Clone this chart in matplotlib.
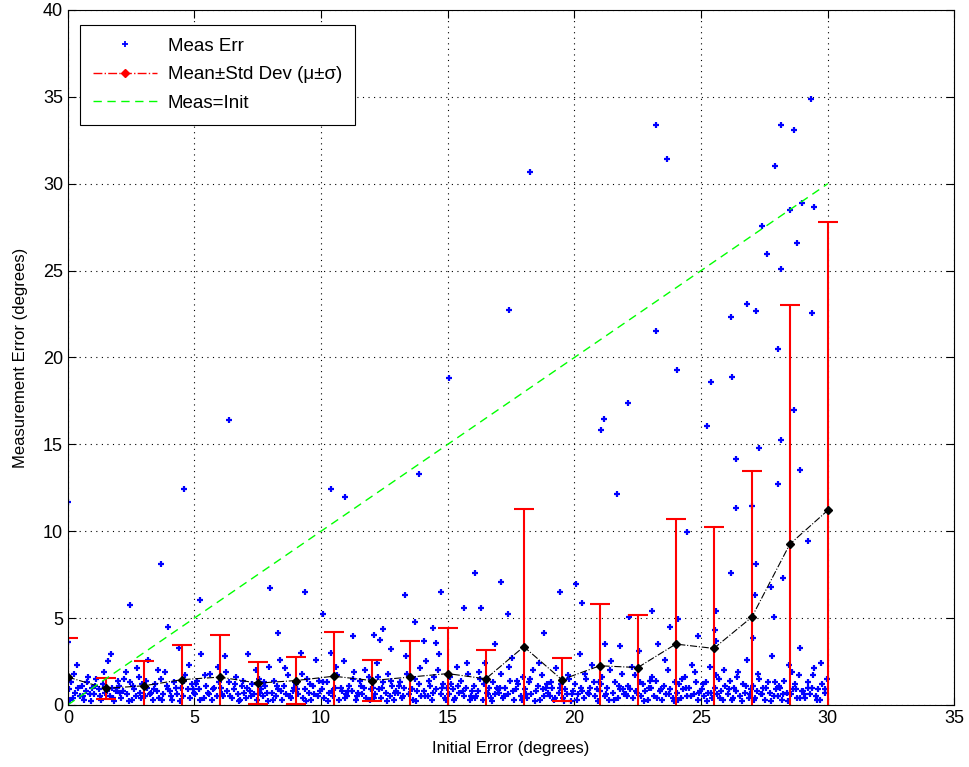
import numpy as np
from matplotlib import pyplot as plt
from matplotlib.lines import Line2D

plt.rcParams['font.family'] = ['Liberation Sans', 'DejaVu Sans']

# bin centres, mean and std of measurement error
bin_x = [0, 1.5, 3, 4.5, 6, 7.5, 9, 10.5, 12, 13.5, 15, 16.5, 18, 19.5, 21, 22.5, 24, 25.5, 27, 28.5, 30]
bin_mean = [1.6, 0.95, 1.1, 1.45, 1.6, 1.25, 1.4, 1.65, 1.4, 1.6, 1.8, 1.5, 3.35, 1.45, 2.25, 2.15,
            3.5, 3.25, 5.05, 9.25, 11.2]
bin_top = [3.85, 1.55, 2.55, 3.45, 4.0, 2.45, 2.75, 4.2, 2.6, 3.7, 4.4, 3.15, 11.25, 2.7, 5.8, 5.15,
           10.7, 10.25, 13.45, 23.0, 27.8]

# dense low cloud of measurement errors
low_x = [
    0.05, 0.12, 0.21, 0.30, 0.38, 0.47, 0.55, 0.63, 0.71, 0.80, 0.88, 0.95,
    1.04, 1.11, 1.22, 1.29, 1.37, 1.46, 1.58, 1.66, 1.74, 1.83, 1.90, 1.97,
    2.02, 2.10, 2.19, 2.28, 2.35, 2.44, 2.53, 2.61, 2.70, 2.79, 2.86, 2.94,
    3.03, 3.12, 3.18, 3.27, 3.36, 3.45, 3.52, 3.60, 3.69, 3.77, 3.85, 3.96,
    4.05, 4.13, 4.20, 4.31, 4.39, 4.47, 4.56, 4.64, 4.73, 4.81, 4.89, 4.97,
    5.02, 5.11, 5.19, 5.27, 5.36, 5.44, 5.53, 5.62, 5.70, 5.78, 5.87, 5.95,
    6.06, 6.14, 6.21, 6.30, 6.38, 6.47, 6.55, 6.63, 6.72, 6.80, 6.88, 6.96,
    7.03, 7.10, 7.19, 7.28, 7.36, 7.45, 7.53, 7.62, 7.70, 7.79, 7.87, 7.95,
    8.04, 8.12, 8.20, 8.29, 8.37, 8.46, 8.54, 8.63, 8.71, 8.80, 8.88, 8.97,
    9.02, 9.10, 9.19, 9.27, 9.36, 9.44, 9.52, 9.61, 9.69, 9.78, 9.86, 9.94,
    10.05, 10.13, 10.22, 10.30, 10.39, 10.47, 10.56, 10.64, 10.72, 10.81, 10.89, 10.97,
    11.03, 11.11, 11.20, 11.28, 11.37, 11.45, 11.54, 11.62, 11.71, 11.79, 11.88, 11.96,
    12.04, 12.13, 12.21, 12.29, 12.38, 12.46, 12.55, 12.63, 12.72, 12.80, 12.89, 12.97,
    13.02, 13.10, 13.19, 13.28, 13.36, 13.45, 13.53, 13.61, 13.70, 13.78, 13.87, 13.95,
    14.05, 14.13, 14.21, 14.30, 14.38, 14.47, 14.55, 14.64, 14.72, 14.80, 14.89, 14.97,
    15.03, 15.12, 15.20, 15.29, 15.37, 15.45, 15.54, 15.62, 15.71, 15.79, 15.87, 15.96,
    16.04, 16.12, 16.21, 16.29, 16.38, 16.46, 16.54, 16.63, 16.71, 16.80, 16.88, 16.97,
    17.02, 17.11, 17.19, 17.27, 17.36, 17.44, 17.53, 17.61, 17.70, 17.78, 17.87, 17.95,
    18.05, 18.13, 18.22, 18.30, 18.38, 18.47, 18.55, 18.64, 18.72, 18.81, 18.89, 18.97,
    19.03, 19.11, 19.20, 19.28, 19.37, 19.45, 19.53, 19.62, 19.70, 19.79, 19.87, 19.96,
    20.04, 20.12, 20.21, 20.29, 20.38, 20.46, 20.55, 20.63, 20.71, 20.80, 20.88, 20.97,
    21.02, 21.10, 21.19, 21.27, 21.36, 21.44, 21.53, 21.61, 21.70, 21.78, 21.87, 21.95,
    22.05, 22.13, 22.21, 22.30, 22.38, 22.47, 22.55, 22.64, 22.72, 22.80, 22.89, 22.97,
    23.03, 23.12, 23.20, 23.28, 23.37, 23.45, 23.54, 23.62, 23.70, 23.79, 23.87, 23.96,
    24.04, 24.12, 24.21, 24.29, 24.38, 24.46, 24.54, 24.63, 24.71, 24.80, 24.88, 24.97,
    25.02, 25.11, 25.19, 25.28, 25.36, 25.44, 25.53, 25.61, 25.70, 25.78, 25.87, 25.95,
    26.05, 26.13, 26.22, 26.30, 26.38, 26.47, 26.55, 26.64, 26.72, 26.81, 26.89, 26.97,
    27.03, 27.11, 27.20, 27.28, 27.37, 27.45, 27.53, 27.62, 27.70, 27.79, 27.87, 27.95,
    28.04, 28.12, 28.21, 28.29, 28.38, 28.46, 28.54, 28.63, 28.71, 28.80, 28.88, 28.97,
    29.03, 29.11, 29.20, 29.28, 29.37, 29.45, 29.53, 29.62, 29.70, 29.79, 29.87, 29.96,
]
low_y = [
    0.9, 1.3, 0.4, 0.7, 2.3, 0.5, 1.1, 0.3, 0.8, 1.6, 0.6, 1.0,
    0.6, 1.5, 0.9, 0.3, 1.2, 0.7, 2.5, 0.5, 1.0, 0.2, 0.8, 1.4,
    1.1, 0.4, 0.8, 1.9, 0.6, 1.3, 0.3, 0.9, 0.5, 1.6, 0.7, 1.2,
    0.5, 1.0, 2.6, 0.7, 0.3, 1.2, 0.8, 0.4, 1.5, 0.6, 1.9, 0.9,
    0.8, 0.3, 1.3, 0.6, 3.3, 1.0, 0.5, 1.7, 0.9, 0.4, 1.2, 0.7,
    0.6, 1.4, 0.9, 2.9, 0.4, 1.1, 0.7, 1.8, 0.3, 1.0, 0.5, 1.3,
    1.0, 0.5, 2.8, 0.8, 1.3, 0.4, 0.9, 1.6, 0.6, 0.3, 1.1, 0.7,
    0.4, 2.9, 0.8, 1.2, 0.6, 0.3, 1.5, 0.9, 0.5, 1.1, 0.7, 2.2,
    0.7, 1.4, 0.5, 0.9, 2.6, 0.3, 1.1, 0.6, 1.7, 0.4, 0.8, 1.3,
    1.2, 0.6, 3.0, 0.4, 0.9, 1.5, 0.7, 0.3, 1.1, 2.6, 0.5, 0.8,
    0.9, 0.4, 1.3, 0.7, 3.0, 0.5, 1.0, 1.7, 0.3, 0.8, 2.5, 0.6,
    0.5, 1.1, 0.8, 1.9, 0.3, 0.7, 1.4, 0.6, 1.0, 0.4, 1.6, 0.9,
    1.0, 0.6, 2.4, 0.9, 0.4, 1.3, 0.7, 1.8, 0.5, 1.1, 0.3, 0.8,
    0.7, 1.3, 0.4, 1.0, 2.8, 0.6, 0.9, 0.3, 1.5, 0.8, 1.2, 0.5,
    0.8, 2.5, 0.5, 1.1, 0.3, 1.6, 0.9, 2.9, 0.6, 1.2, 0.4, 1.0,
    0.6, 1.2, 0.9, 0.4, 2.2, 0.7, 1.4, 0.5, 1.0, 1.8, 0.3, 0.8,
    1.1, 0.5, 0.8, 1.5, 0.3, 2.4, 0.7, 1.0, 0.4, 1.3, 0.6, 0.9,
    0.7, 1.8, 0.4, 1.0, 0.6, 1.4, 2.7, 0.3, 0.9, 1.2, 0.5, 1.6,
    0.9, 0.4, 1.3, 0.6, 2.0, 0.8, 1.1, 0.3, 1.7, 0.5, 1.0, 0.7,
    0.5, 1.0, 0.3, 2.1, 0.7, 1.2, 0.4, 0.9, 0.6, 1.5, 0.2, 0.8,
    1.2, 0.6, 2.9, 0.8, 0.4, 1.5, 0.7, 1.0, 2.3, 0.5, 0.9, 1.3,
    0.8, 1.6, 0.5, 1.0, 0.3, 2.5, 0.7, 1.3, 0.4, 0.9, 1.8, 0.6,
    0.6, 1.1, 0.9, 0.4, 1.7, 0.7, 3.1, 0.5, 1.2, 0.8, 0.3, 1.4,
    1.0, 0.5, 1.4, 3.5, 0.8, 0.3, 1.1, 0.6, 2.0, 0.9, 0.4, 1.3,
    0.7, 1.2, 0.4, 0.9, 1.6, 0.5, 1.0, 2.3, 0.6, 1.3, 0.3, 0.8,
    0.9, 0.5, 1.3, 0.7, 2.2, 0.4, 1.0, 0.6, 1.5, 0.8, 0.3, 1.1,
    0.6, 1.4, 0.3, 1.0, 0.8, 1.9, 0.5, 1.2, 0.7, 2.6, 0.4, 0.9,
    1.1, 0.4, 0.8, 1.5, 0.6, 1.0, 0.3, 1.3, 0.7, 2.8, 0.5, 0.9,
    0.5, 1.0, 0.3, 1.4, 0.7, 2.3, 0.6, 0.9, 1.2, 0.4, 1.7, 0.8,
    0.8, 0.4, 1.3, 0.6, 1.0, 2.1, 0.5, 0.9, 0.3, 1.2, 0.7, 1.5,
]

# second pass over the low cloud
extra_x = [
    0.08, 0.25, 0.42, 0.58, 0.75, 0.91, 1.07, 1.26, 1.41, 1.55, 1.77, 1.93,
    2.06, 2.23, 2.40, 2.57, 2.74, 2.90, 3.08, 3.24, 3.41, 3.56, 3.73, 3.91,
    4.09, 4.26, 4.43, 4.60, 4.77, 4.93, 5.06, 5.23, 5.40, 5.58, 5.74, 5.91,
    6.10, 6.26, 6.42, 6.59, 6.76, 6.92, 7.07, 7.24, 7.41, 7.57, 7.74, 7.91,
    8.08, 8.25, 8.42, 8.58, 8.76, 8.92, 9.06, 9.23, 9.40, 9.57, 9.73, 9.90,
    10.09, 10.26, 10.43, 10.60, 10.77, 10.93, 11.07, 11.24, 11.41, 11.58, 11.75, 11.92,
    12.08, 12.25, 12.42, 12.59, 12.76, 12.93, 13.06, 13.23, 13.40, 13.57, 13.74, 13.91,
    14.09, 14.26, 14.43, 14.60, 14.76, 14.93, 15.07, 15.24, 15.41, 15.58, 15.75, 15.92,
    16.08, 16.25, 16.42, 16.59, 16.76, 16.93, 17.06, 17.23, 17.40, 17.57, 17.74, 17.91,
    18.09, 18.26, 18.43, 18.60, 18.77, 18.93, 19.07, 19.24, 19.41, 19.58, 19.74, 19.91,
    20.08, 20.25, 20.42, 20.59, 20.76, 20.93, 21.06, 21.23, 21.40, 21.57, 21.74, 21.91,
    22.09, 22.26, 22.43, 22.60, 22.76, 22.93, 23.07, 23.24, 23.41, 23.58, 23.75, 23.92,
    24.08, 24.25, 24.42, 24.59, 24.76, 24.93, 25.06, 25.23, 25.40, 25.57, 25.74, 25.91,
    26.09, 26.26, 26.43, 26.60, 26.77, 26.93, 27.07, 27.24, 27.41, 27.58, 27.75, 27.91,
    28.08, 28.25, 28.42, 28.59, 28.76, 28.92, 29.06, 29.23, 29.40, 29.57, 29.74, 29.90,
]
extra_y = [
    0.3, 1.8, 1.0, 0.5, 1.3, 0.2, 1.1, 0.5, 1.9, 0.8, 0.4, 1.0,
    0.7, 1.5, 0.2, 1.1, 2.1, 0.4, 1.4, 0.6, 0.9, 2.0, 0.3, 1.1,
    0.5, 1.0, 0.2, 1.4, 2.3, 0.9, 1.2, 0.3, 1.7, 0.6, 0.9, 2.2,
    0.6, 1.9, 0.5, 1.2, 0.2, 1.4, 1.0, 0.5, 2.0, 0.7, 1.3, 0.2,
    0.3, 1.1, 0.8, 2.1, 0.5, 1.0, 0.9, 1.8, 0.2, 1.2, 0.6, 1.4,
    1.3, 0.2, 0.8, 2.2, 1.0, 0.4, 0.8, 1.5, 0.5, 1.1, 2.0, 0.3,
    0.4, 1.6, 1.0, 0.2, 1.4, 0.7, 1.1, 0.5, 1.8, 0.9, 0.2, 2.1,
    0.5, 1.4, 0.7, 2.0, 1.0, 0.3, 1.6, 0.3, 1.1, 0.8, 2.4, 0.5,
    0.4, 1.9, 1.2, 0.6, 0.2, 1.0, 1.0, 0.5, 2.2, 0.8, 1.4, 0.3,
    0.6, 1.5, 0.2, 2.4, 0.9, 1.2, 1.3, 0.4, 1.0, 0.2, 1.7, 0.6,
    0.3, 1.0, 1.8, 0.6, 1.3, 0.2, 1.2, 0.6, 2.0, 0.3, 1.1, 0.9,
    0.5, 2.2, 0.8, 1.3, 0.2, 1.0, 1.6, 0.4, 0.9, 2.6, 0.6, 0.2,
    0.3, 1.5, 1.0, 0.5, 1.9, 0.7, 1.2, 0.2, 0.7, 1.7, 0.4, 2.0,
    0.9, 0.4, 1.6, 0.2, 1.1, 0.6, 0.3, 1.8, 0.6, 1.0, 0.2, 1.3,
    1.1, 0.6, 0.2, 1.9, 0.9, 0.4, 0.6, 1.0, 1.7, 0.3, 2.4, 0.9,
]

# scattered larger errors
high_x = [0.0, 0.0, 2.45, 3.69, 3.96, 5.2, 7.98, 9.35, 8.3, 10.06, 11.24, 1.69, 6.37, 4.57,
          10.37, 10.94, 13.87, 21.05, 21.18, 22.12, 21.68, 16.07, 18.26, 17.43, 15.05, 23.67,
          23.23, 24.06, 23.2, 29.34, 28.16, 28.67, 27.92, 28.98, 28.5, 29.47, 27.4, 28.79,
          27.61, 28.16, 26.81, 26.17, 27.18, 29.36, 28.04, 25.4, 26.23, 25.22, 28.65, 28.17,
          27.3, 26.37, 28.92, 28.05, 26.37, 26.99, 24.43, 29.23, 27.17, 26.18, 28.23, 27.74,
          27.11, 23.06, 25.57, 24.07, 27.87, 23.78, 25.55, 24.87, 27.03, 25.6, 28.92, 17.1,
          13.31, 14.75, 15.62, 16.32, 17.37, 19.42, 20.05, 20.3, 13.69, 12.1, 12.43, 14.43,
          12.32, 14.07, 14.55, 12.74, 16.87, 18.81, 21.2, 21.8, 22.16]
high_y = [11.7, 3.6, 5.76, 8.13, 4.47, 6.05, 6.75, 6.5, 4.13, 5.22, 3.94, 2.92, 16.4, 12.4,
          12.4, 11.97, 13.3, 15.8, 16.45, 17.35, 12.15, 7.6, 30.66, 22.73, 18.8, 31.4,
          21.5, 19.26, 33.4, 34.87, 33.4, 33.1, 31.0, 28.9, 28.46, 28.67, 27.57, 26.56,
          25.95, 25.09, 23.1, 22.3, 22.65, 22.56, 20.47, 18.6, 18.9, 16.06, 16.98, 15.26,
          14.8, 14.15, 13.5, 12.7, 11.33, 11.43, 9.95, 9.41, 8.13, 7.6, 7.31, 6.77,
          6.31, 5.41, 5.39, 4.93, 5.05, 4.49, 4.3, 3.98, 3.84, 3.67, 3.3, 7.06,
          6.31, 6.5, 5.59, 5.59, 5.22, 6.5, 6.94, 5.85, 4.76, 4.03, 4.34, 4.41,
          3.75, 3.69, 3.57, 3.23, 3.48, 4.13, 3.48, 3.38, 5.03]

line_x = [0, 30]

meas_x = low_x + extra_x + high_x
meas_y = low_y + extra_y + high_y
bin_std = np.array(bin_top) - np.array(bin_mean)

fig = plt.figure(figsize=(9.69, 7.67), dpi=100)
ax = fig.add_axes([0.070, 0.081, 0.915, 0.906])

ax.plot(meas_x, meas_y, '+', color='blue', markersize=4.5, markeredgewidth=1.6)
ax.errorbar(bin_x, bin_mean, yerr=bin_std, fmt='none', ecolor='red', elinewidth=1.5,
            capsize=7, capthick=1.5)
ax.plot(bin_x, bin_mean, 'k-.', linewidth=0.8, marker='D', markersize=4)
ax.plot(line_x, line_x, '--', color='#00ff00', linewidth=1.0, dashes=(6, 4))

ax.set_xlim(0, 35)
ax.set_ylim(0, 40)
ax.set_xticks(range(0, 36, 5))
ax.set_yticks(range(0, 41, 5))
ax.tick_params(direction='in', top=True, right=True, length=6, labelsize=13)
ax.grid(True, color='black', linestyle=(0, (1, 4)), linewidth=0.8)
ax.set_xlabel('Initial Error (degrees)', fontsize=12, labelpad=10)
ax.set_ylabel('Measurement Error (degrees)', fontsize=12, labelpad=11)

handles = [
    Line2D([], [], linestyle='none', marker='+', color='blue', markersize=4, markeredgewidth=1.3),
    Line2D([], [], linestyle='-.', color='red', marker='D', markersize=4, linewidth=1.0),
    Line2D([], [], linestyle='--', color='#00ff00', linewidth=1.0, dashes=(6, 4)),
]
labels = ['Meas Err', 'Mean\u00b1Std Dev (\u03bc\u00b1\u03c3)', 'Meas=Init']
leg = ax.legend(handles, labels, loc='upper left', bbox_to_anchor=(0.0135, 0.979), fontsize=13.5,
                fancybox=False, edgecolor='black', framealpha=1, handlelength=3.4, borderpad=0.7,
                labelspacing=0.6, handletextpad=0.6, borderaxespad=0)
leg.get_frame().set_linewidth(0.8)

fig.savefig('out.png')
